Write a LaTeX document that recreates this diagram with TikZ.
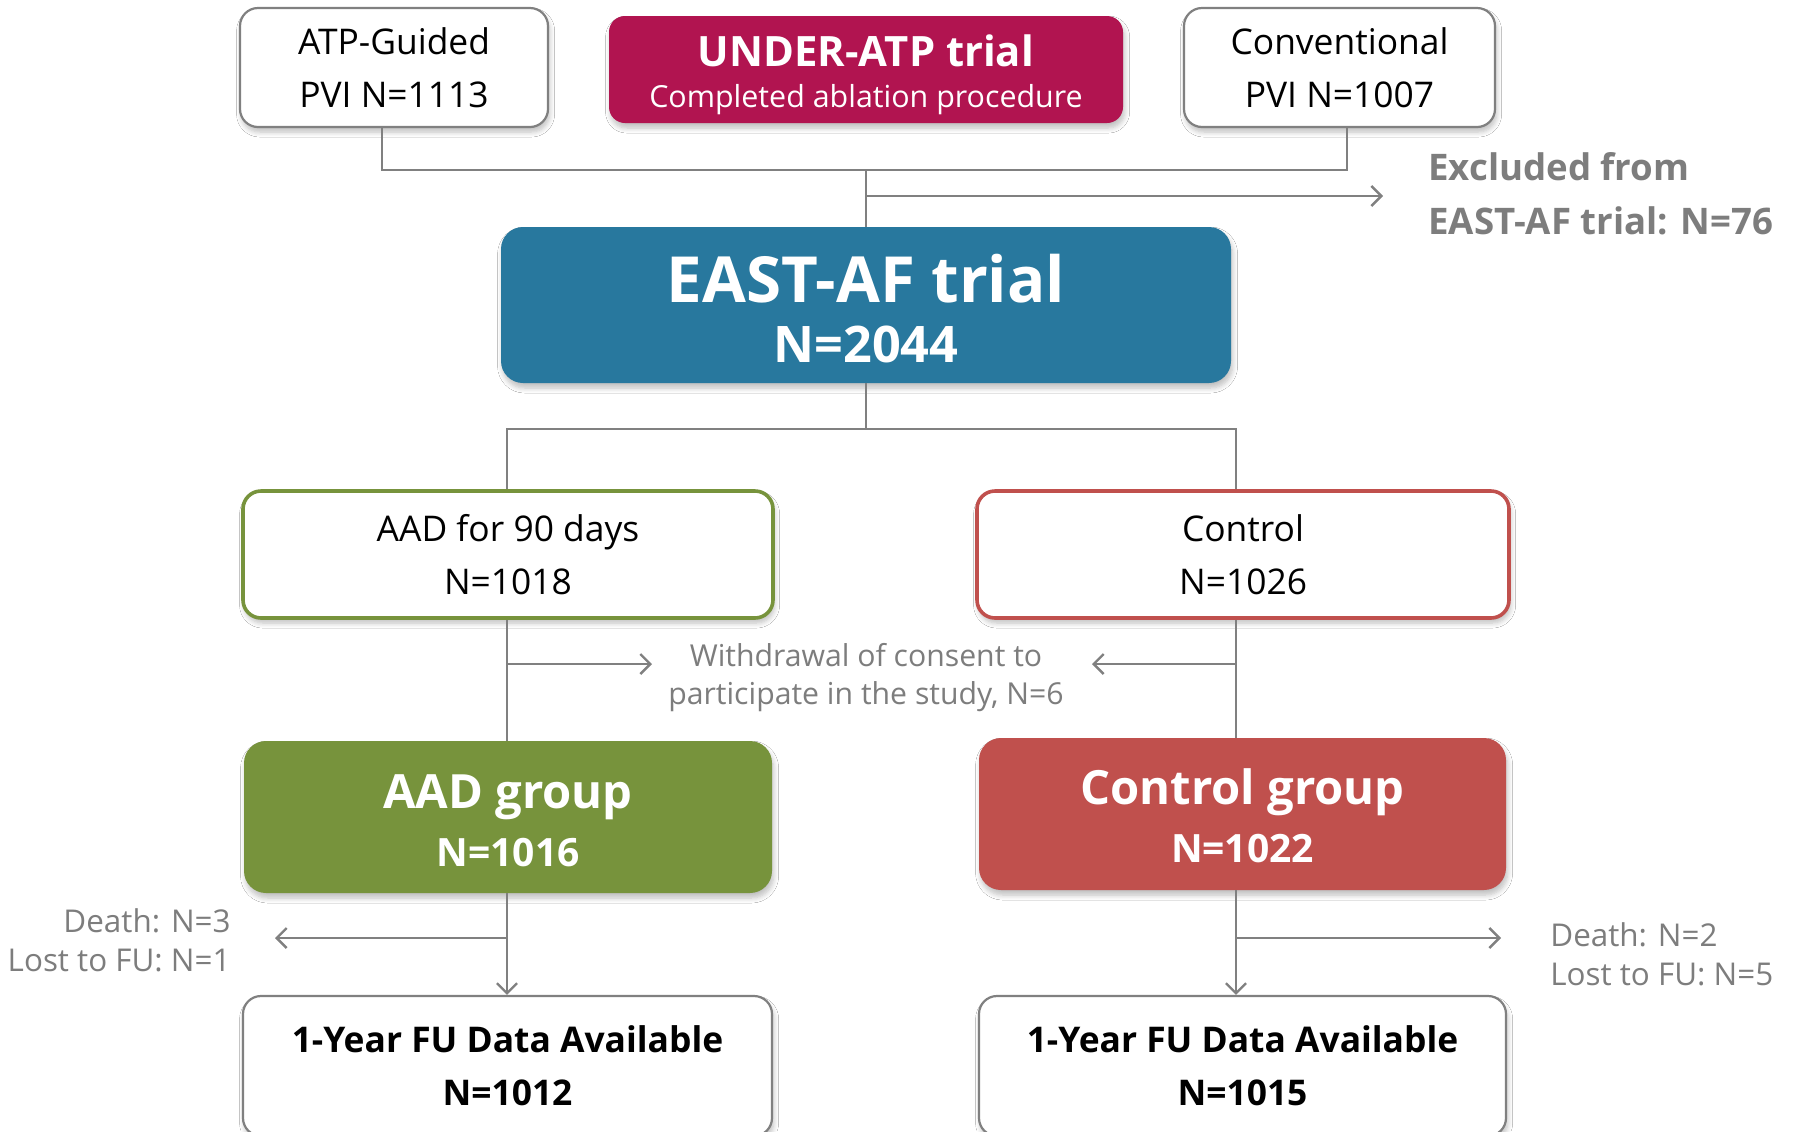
\documentclass[tikz,border=0pt]{standalone}
\usepackage{fontspec}
\setmainfont{Open Sans}
\usetikzlibrary{arrows.meta,shadows.blur}
\definecolor{underc}{RGB}{177,20,80}
\definecolor{eastc}{RGB}{40,120,158}
\definecolor{aadc}{RGB}{119,147,60}
\definecolor{ctrlc}{RGB}{192,80,77}
\definecolor{linec}{RGB}{128,128,128}
\definecolor{txtgray}{RGB}{125,125,125}
\tikzset{
  shad/.style={blur shadow={shadow xshift=0.8pt, shadow yshift=-2.5pt, shadow blur steps=6, shadow opacity=25, shadow blur radius=2.5pt}},
  whitebox/.style={shad, draw=linec, line width=1.1pt, fill=white, rounded corners=9pt, align=center, inner sep=0pt, font=\fontsize{17.7}{26.5}\selectfont},
  colbox/.style={shad, rounded corners=11pt, inner sep=0pt},
  coltext/.style={align=center, inner sep=0pt, text=white},
  conn/.style={draw=linec, line width=1.2pt},
  arr/.style={conn, -{Straight Barb[length=5pt, width=10pt, line width=1.2pt]}},
  note/.style={text=txtgray, align=center, inner sep=0pt, font=\fontsize{15.1}{19}\selectfont},
}
\begin{document}
\begin{tikzpicture}[x=0.5pt,y=-0.5pt]
\useasboundingbox[fill=white] (0,0) rectangle (1799,1131);

% top row
\node[whitebox, minimum width=154pt, minimum height=59.5pt] (atp) at (394,67.5) {ATP-Guided\\PVI N=1113};
\node[colbox, fill=underc, minimum width=257pt, minimum height=53.5pt, rounded corners=8pt] (under) at (866,69.5) {};
\node[coltext, font=\fontsize{15.2}{20.5}\selectfont] (undert) at (866,74.5)
  {{\fontsize{20.9}{24}\selectfont\bfseries UNDER-ATP trial}\\Completed ablation procedure};
\node[whitebox, minimum width=155.5pt, minimum height=59.5pt] (conv) at (1339.5,67.5) {Conventional\\PVI N=1007};

% EAST-AF
\node[colbox, fill=eastc, minimum width=365pt, minimum height=78pt] (east) at (866,305) {};
\node[coltext, font=\fontsize{25.2}{30}\selectfont] (eastt) at (866,308.5)
  {{\fontsize{31.8}{36}\selectfont\bfseries EAST-AF trial}\\\bfseries N=2044};

\coordinate (jtop) at (866,170);
\coordinate (exc) at (1383,196);
\draw[conn] (atp.south -| 382,0) |- (jtop) -| (conv.south -| 1347,0);
\draw[conn] (jtop) -- (east.north);
\draw[arr] (866,196) -- (exc);
\node[anchor=west, text=txtgray, align=left, inner sep=0pt, font=\fontsize{18.3}{27}\selectfont\bfseries] (exctxt) at (1428,194) {Excluded from\\EAST-AF trial: N=76};

% second row
\node[whitebox, draw=aadc, line width=1.8pt, minimum width=265pt, minimum height=63.5pt] (aad90) at (508,554.5) {AAD for 90 days\\N=1018};
\node[whitebox, draw=ctrlc, line width=1.8pt, minimum width=266pt, minimum height=63.5pt] (ctrl) at (1243,554.5) {Control\\N=1026};

\coordinate (jmid) at (866,429);
\draw[conn] (east.south) -- (jmid);
\draw[conn] (aad90.north -| 507,0) |- (jmid) -| (ctrl.north -| 1236,0);

% groups
\node[colbox, fill=aadc, minimum width=264pt, minimum height=76pt] (aadg) at (508,817) {};
\node[coltext, font=\fontsize{19.5}{29}\selectfont\bfseries] (aadgt) at (508,820.5)
  {{\fontsize{23.6}{28}\selectfont AAD group}\\N=1016};
\node[colbox, fill=ctrlc, minimum width=263.5pt, minimum height=76pt] (ctrlg) at (1242.5,814) {};
\node[coltext, font=\fontsize{19.5}{29}\selectfont\bfseries] (ctrlgt) at (1242.5,816)
  {{\fontsize{23.6}{28}\selectfont Control group}\\N=1022};

\draw[conn] (aad90.south -| 507,0) -- (aadg.north -| 507,0);
\draw[conn] (ctrl.south -| 1236,0) -- (ctrlg.north -| 1236,0);
\coordinate (wl) at (652,664);
\coordinate (wr) at (1092,664);
\draw[arr] (507,664) -- (wl);
\draw[arr] (1236,664) -- (wr);
\node[note] (withdraw) at (866,678) {Withdrawal of consent to\\participate in the study, N=6};

% FU boxes
\node[whitebox, minimum width=264.5pt, minimum height=70pt, font=\fontsize{17.7}{26.5}\selectfont\bfseries] (ful) at (507.5,1066) {1-Year FU Data Available\\N=1012};
\node[whitebox, minimum width=263.5pt, minimum height=70pt, font=\fontsize{17.7}{26.5}\selectfont\bfseries] (fur) at (1242.5,1066) {1-Year FU Data Available\\N=1015};

\draw[arr] (aadg.south -| 507,0) -- (ful.north -| 507,0);
\draw[arr] (ctrlg.south -| 1236,0) -- (fur.north -| 1236,0);
\coordinate (dl) at (275,938);
\coordinate (dr) at (1501,938);
\draw[arr] (507,938) -- (dl);
\draw[arr] (1236,938) -- (dr);
\node[note, anchor=east, align=right, font=\fontsize{15.7}{19.5}\selectfont] (deathl) at (231,940) {Death: N=3\\Lost to FU: N=1};
\node[note, anchor=west, align=left, font=\fontsize{15.7}{19.5}\selectfont] (deathr) at (1550,954) {Death: N=2\\Lost to FU: N=5};

\end{tikzpicture}
\end{document}
